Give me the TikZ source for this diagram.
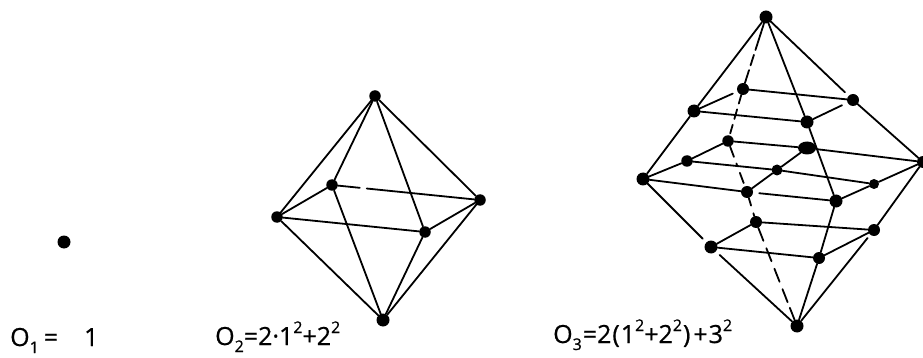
\documentclass[tikz,border=0pt]{standalone}
\usepackage{fontspec}
\usetikzlibrary{shapes.geometric}
\newfontfamily\hand[FakeBold=0.7]{Open Sans}
\newcommand{\lo}[1]{\raisebox{-7pt}{\fontsize{16}{16}\selectfont #1}}
\newcommand{\hi}[1]{\raisebox{12pt}{\fontsize{16}{16}\selectfont #1}}
\tikzset{
  vtx/.style={circle,fill=black,draw=none,inner sep=0pt,minimum size=11.5pt},
  edge/.style={draw=black,line width=1.8pt,line cap=round},
  hid/.style={edge,dash pattern=on 11pt off 7pt},
  formula/.style={anchor=base west,inner sep=0pt,font=\hand\fontsize{25}{25}\selectfont},
}
\begin{document}
\begin{tikzpicture}[x=1pt,y=-1pt]
\useasboundingbox (0,0) rectangle (923,358);
% single point
\node[vtx,minimum size=13pt] (p) at (64,242) {};
% second octahedron
\node[vtx] (t) at (375,96) {};
\node[vtx] (l) at (277,217) {};
\node[vtx] (b) at (332,185) {};
\node[vtx] (r) at (480,200) {};
\node[vtx] (f) at (425,232) {};
\node[vtx,minimum size=13pt] (u) at (383,320) {};
\draw[edge] (t)--(l); \draw[edge] (t)--(b); \draw[edge] (t)--(r); \draw[edge] (t)--(f);
\draw[edge] (u)--(l); \draw[edge,shorten >=-2pt] (b)--(u); \draw[edge] (u)--(r); \draw[edge] (u)--(f);
\draw[edge] (l)--(b); \draw[edge] (l)--(f); \draw[edge] (f)--(r);
\draw[edge,dash pattern=on 22pt off 7pt on 200pt] (b)--(r);
% third octahedron
\node[vtx,minimum size=13pt] (T) at (766,17) {};
\node[vtx,minimum size=13pt] (U) at (797,326) {};
\node[vtx,minimum size=13pt] (a1) at (694,111) {};
\node[vtx,minimum size=12pt] (a2) at (743,89) {};
\node[vtx,minimum size=12pt] (a3) at (853,100) {};
\node[vtx,minimum size=13pt] (a4) at (807,122) {};
\node[vtx,minimum size=13pt] (m11) at (643,179) {};
\node[vtx] (m12) at (687,161) {};
\node[vtx] (m13) at (728,141) {};
\node[vtx,minimum size=12pt] (m21) at (747,192) {};
\node[vtx,minimum size=11pt] (m22) at (777,170) {};
\node[ellipse,fill=black,inner sep=0pt,minimum width=18pt,minimum height=13pt] (m23) at (807,148) {};
\node[vtx,minimum size=13pt] (m31) at (836,201) {};
\node[vtx,minimum size=10pt] (m32) at (874,184) {};
\node[vtx,minimum size=12pt] (m33) at (923,162) {};
\node[vtx,minimum size=13pt] (c1) at (711,247) {};
\node[vtx,minimum size=12pt] (c2) at (756,222) {};
\node[vtx,minimum size=12pt] (c3) at (874,230) {};
\node[vtx,minimum size=12pt] (c4) at (819,258) {};
% outer edges
\draw[edge] (T)--(a1); \draw[edge] (a1)--(m11);
\draw[edge,shorten >=5pt] (T)--(a3); \draw[edge] (a3)--(m33);
\draw[edge] (T)--(a4); \draw[edge] (a4)--(m31); \draw[edge] (m31)--(c4); \draw[edge] (c4)--(U);
\draw[edge,shorten >=5pt] (m11)--(c1); \draw[edge,shorten <=5pt] (c1)--(U);
\draw[edge] (m33)--(c3); \draw[edge,shorten <=4pt] (c3)--(U);
% upper square
\draw[edge,shorten >=5pt] (a1)--(a2); \draw[edge] (a2)--(a3);
\draw[edge,shorten >=6pt] (a4)--(a3); \draw[edge] (a1)--(a4);
% middle square
\draw[edge] (m11)--(m12); \draw[edge] (m12)--(m13);
\draw[edge] (m13)--(m23); \draw[edge] (m23)--(m33);
\draw[edge] (m11)--(m21); \draw[edge,shorten <=6pt] (m21)--(m31);
\draw[edge] (m12)--(m22); \draw[edge] (m22)--(m32);
\draw[edge] (m21)--(m22); \draw[edge] (m22)--(m23);
\draw[edge] (m31)--(m32); \draw[edge] (m32)--(m33);
% lower square
\draw[edge] (c1)--(c2); \draw[edge] (c2)--(c3);
\draw[edge] (c1)--(c4); \draw[edge] (c4)--(c3);
% hidden axis
\draw[edge,dash pattern=on 28pt off 5pt on 11pt off 5pt on 40pt] (T)--(a2);
\draw[hid,dash pattern=on 9pt off 6pt on 10pt off 6pt] (a2)--(m13);
\draw[hid,dash pattern=on 11pt off 7pt on 3pt off 7pt] (m13)--(m21);
\draw[hid,dash pattern=on 8pt off 8pt] (m21)--(c2);
\draw[hid,dash pattern=on 14pt off 8pt on 14pt off 8pt on 14pt off 8pt on 14pt off 6pt] (c2)--(U);
% formulas
\node[formula] (o1) at (10,346) {O\lo{1}\hspace{5pt}=\hspace{26pt}1};
\node[formula] (o2) at (215,345) {O\lo{2}=2·1\hi{2}+2\hi{2}};
\node[formula] (o3) at (553,343) {O\lo{3}\hspace{1pt}=2\hspace{1pt}(\hspace{1pt}1\hi{2}+2\hi{2}\hspace{1pt})\hspace{3pt}+\hspace{1pt}3\hi{2}};
\end{tikzpicture}
\end{document}
